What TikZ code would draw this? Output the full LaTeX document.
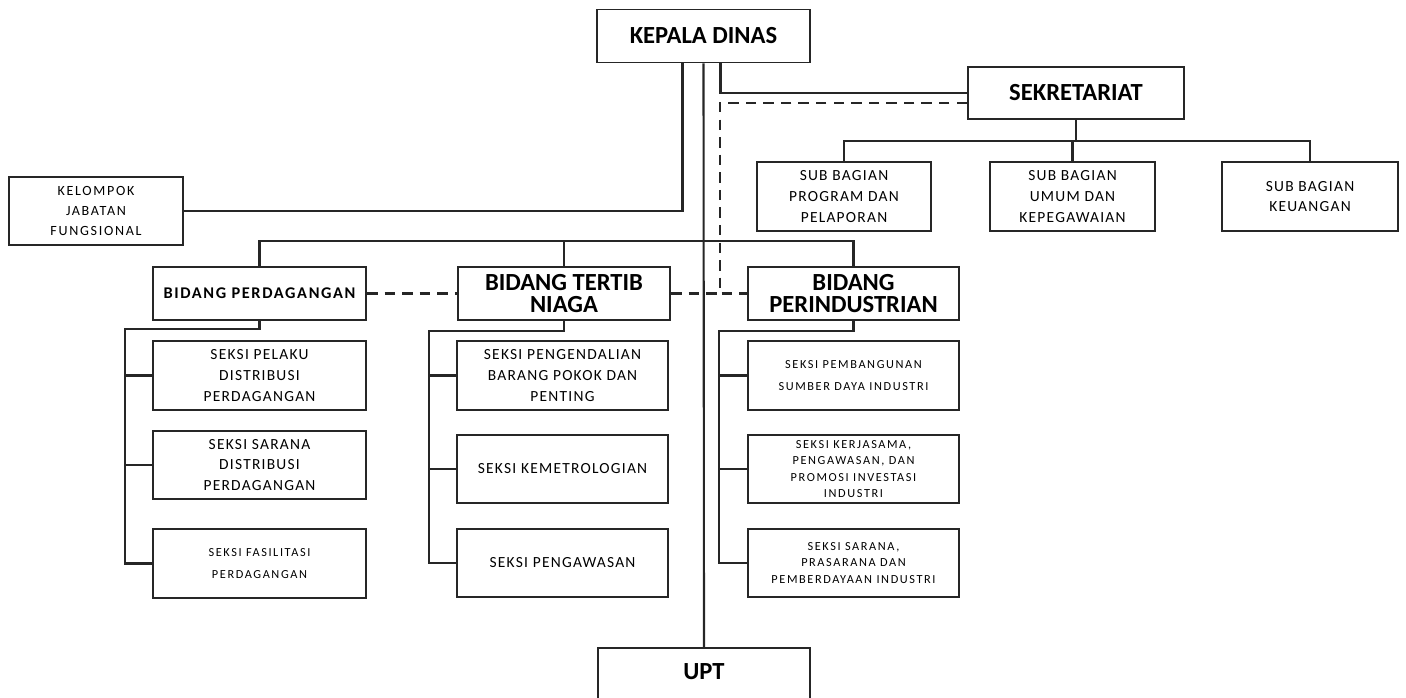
\documentclass[tikz,border=0pt]{standalone}
\usepackage{fontspec}
\setmainfont{Carlito}
\usetikzlibrary{calc}
\tikzset{
  wh/.style 2 args={minimum width=#1*0.02cm, minimum height=#2*0.02cm},
  unitbox/.style={draw=black!85, line width=1.1pt, align=center, inner sep=0pt},
  headbox/.style={unitbox, font=\fontsize{14}{13}\selectfont\bfseries},
  subbox/.style={unitbox, font=\fontsize{8.8}{11.8}\selectfont\addfontfeatures{LetterSpace=8}},
  smallbox/.style={unitbox, font=\fontsize{7}{9.2}\selectfont\addfontfeatures{LetterSpace=13}},
  link/.style={draw=black!85, line width=1.2pt},
  dashlink/.style={draw=black!85, line width=1.2pt, dash pattern=on 6pt off 4pt}
}

\begin{document}
\begin{tikzpicture}[x=0.02cm, y=-0.02cm]
 \useasboundingbox (0,0) rectangle (1406,697);

 \node[headbox, wh={213}{53}] (kepala) at (703.5,36) {KEPALA DINAS};
 \node[headbox, wh={216}{52}] (sekre)  at (1076,93) {SEKRETARIAT};

 \node[subbox, wh={174}{69}] (subprog)  at (844,196.5)  {SUB BAGIAN\\PROGRAM DAN\\PELAPORAN};
 \node[subbox, wh={165}{69}] (subumum)  at (1072.5,196.5) {SUB BAGIAN\\UMUM DAN\\KEPEGAWAIAN};
 \node[subbox, wh={176}{69}] (subkeu)   at (1310,196.5) {SUB BAGIAN\\KEUANGAN};
 \node[subbox, wh={174}{68}, font=\fontsize{8}{11.5}\selectfont\addfontfeatures{LetterSpace=12}] (kelompok) at (96,211) {KELOMPOK\\JABATAN\\FUNGSIONAL};

 \node[headbox, wh={213}{53}, font=\fontsize{9.3}{10}\selectfont\bfseries\addfontfeatures{LetterSpace=10}] (bdag) at (259.5,293.5) {BIDANG PERDAGANGAN};
 \node[headbox, wh={212}{53}] (btertib) at (564,293.5)   {BIDANG TERTIB\\NIAGA};
 \node[headbox, wh={211}{53}] (bind)    at (853.5,293.5) {BIDANG\\PERINDUSTRIAN};

 \node[subbox,   wh={213}{69}] (sd1) at (259.5,375.5) {SEKSI PELAKU\\DISTRIBUSI\\PERDAGANGAN};
 \node[subbox,   wh={213}{68}] (sd2) at (259.5,465)   {SEKSI SARANA\\DISTRIBUSI\\PERDAGANGAN};
 \node[smallbox, wh={213}{69}] (sd3) at (259.5,563.5) {SEKSI FASILITASI\\[3pt]PERDAGANGAN};

 \node[subbox, wh={211}{69}] (st1) at (562.5,375.5) {SEKSI PENGENDALIAN\\BARANG POKOK DAN\\PENTING};
 \node[subbox, wh={211}{68}] (st2) at (562.5,469)   {SEKSI KEMETROLOGIAN};
 \node[subbox, wh={211}{68}] (st3) at (562.5,563)   {SEKSI PENGAWASAN};

 \node[smallbox, wh={211}{69}] (si1) at (853.5,375.5) {SEKSI PEMBANGUNAN\\[3pt]SUMBER DAYA INDUSTRI};
 \node[smallbox, wh={211}{68}] (si2) at (853.5,469)   {SEKSI KERJASAMA,\\PENGAWASAN, DAN\\PROMOSI INVESTASI\\INDUSTRI};
 \node[smallbox, wh={211}{68}] (si3) at (853.5,563)   {SEKSI SARANA,\\PRASARANA DAN\\PEMBERDAYAAN INDUSTRI};

 \node[headbox, wh={212}{64}, text depth=0.33cm] (upt) at (704,680) {UPT};

 \coordinate (bus) at (704,241);
 \coordinate (dj)  at (720,293.5);

 \draw[link] (kepala.south) -- (upt.north);
 \draw[link] (kepala.south) ++(-21,0) |- (kelompok.east);
 \draw[link] (kepala.south) ++(17,0) |- (sekre.west);
 \draw[dashlink] (sekre.west) ++(0,10) -| (dj) -- (bind.west);
 \draw[dashlink] (bdag.east) -- (btertib.west);
 \draw[dashlink] (btertib.east) -- (dj);

 \draw[link] (sekre.south) -- ++(0,21) coordinate (sk);
 \draw[link] (subprog.north) |- (sk) -| (subkeu.north);
 \draw[link] (subumum.north) -- (subumum.north |- sk);

 \draw[link] (bdag.north) |- (bus) -| (bind.north);
 \draw[link] (btertib.north) -- (btertib.north |- bus);

 \draw[link] (bdag.south) -- ++(0,8) -| ($(sd3.west)+(-27,0)$) -- (sd3.west);
 \draw[link] (btertib.south) -- ++(0,10) -| ($(st3.west)+(-27,0)$) -- (st3.west);
 \draw[link] (bind.south) -- ++(0,10) -| ($(si3.west)+(-28,0)$) -- (si3.west);
 \foreach \s in {sd1,sd2,st1,st2} \draw[link] (\s.west) -- ++(-27,0);
 \foreach \s in {si1,si2} \draw[link] (\s.west) -- ++(-28,0);
\end{tikzpicture}
\end{document}
